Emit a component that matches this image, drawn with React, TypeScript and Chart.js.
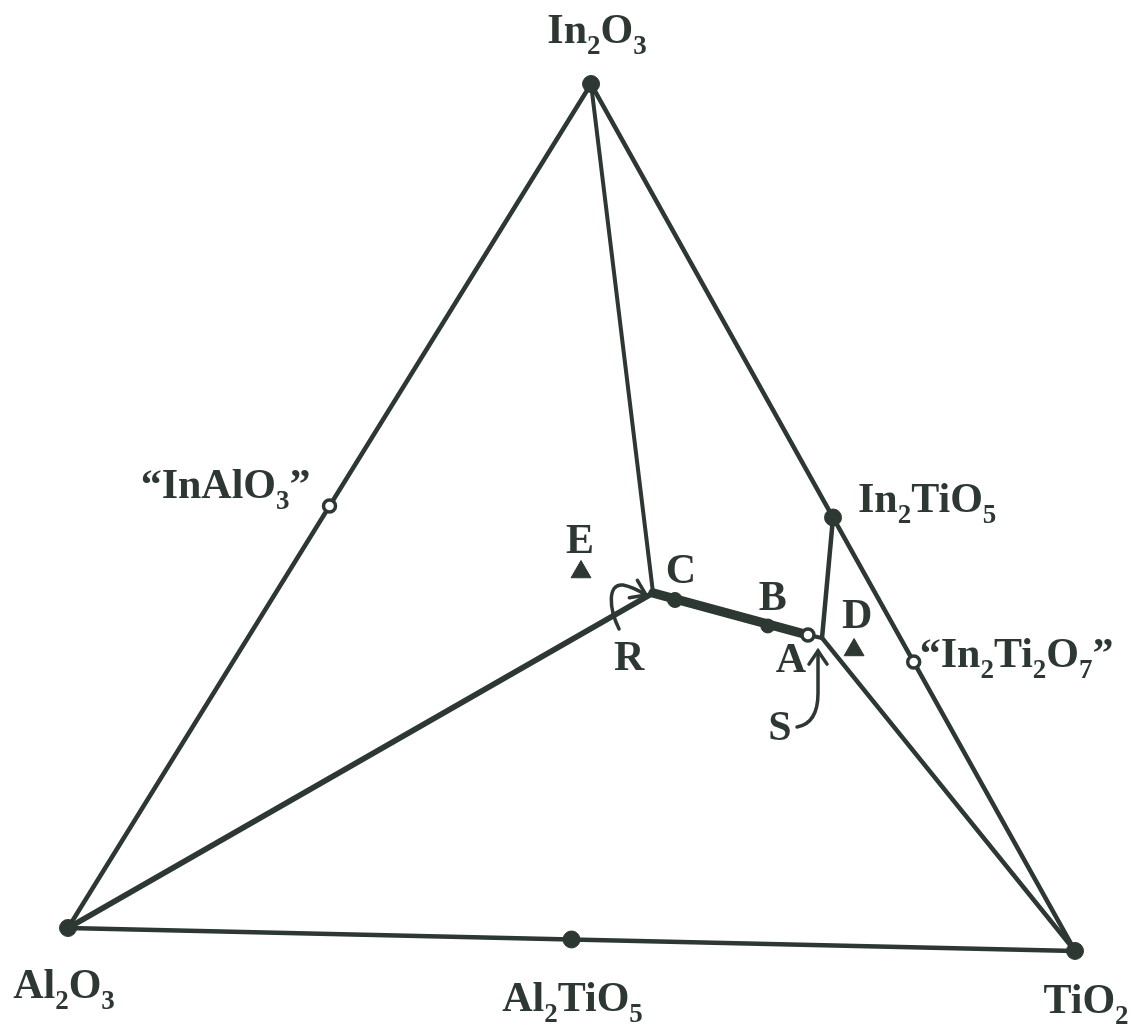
import React, { useEffect, useRef } from 'react';
import { Chart, registerables } from 'chart.js';

Chart.register(...registerables);

// Phases on the In2O3–Al2O3–TiO2 diagram, as mole fractions of In2O3 and TiO2 (Al2O3 is the rest)
const phaseNames = ['In2O3', 'Al2O3', 'TiO2', 'Al2TiO5', '“InAlO3”', 'In2TiO5', '“In2Ti2O7”'];
const phaseIn = [1, 0, 0, 0, 0.5, 0.5, 1 / 3];
const phaseTi = [0, 0, 1, 0.5, 0, 0.5, 2 / 3];
const phaseOpen = [false, false, false, false, true, false, true];

// Lettered compositions inside the triangle
const pointNames = ['A', 'B', 'C', 'D', 'E', 'R', 'S'];
const pointIn = [0.362, 0.3715, 0.3994, 0.3458, 0.4296, 0.407, 0.359];
const pointTi = [0.5468, 0.502, 0.3953, 0.601, 0.2863, 0.3696, 0.5623];

// Tie lines between named compositions, with their stroke weight
const tieFrom = ['Al2O3', 'In2O3', 'TiO2', 'In2O3', 'Al2O3', 'R', 'In2TiO5', 'A', 'S'];
const tieTo = ['In2O3', 'TiO2', 'Al2O3', 'R', 'R', 'A', 'S', 'S', 'TiO2'];
const tieWidth = [4.5, 4.5, 4.5, 4, 5.5, 9.5, 4.5, 4, 4.5];

const INK = '#2d3833';
const MAIN_FONT = 'bold 42px "Liberation Serif", "Times New Roman", serif';
const SUB_FONT = 'bold 27px "Liberation Serif", "Times New Roman", serif';

// Oblique ternary frame: Al2O3 at the origin, TiO2 to the right, In2O3 on top
const IN_X = 0.5194, IN_Y = 0.8381, TI_DROP = 0.0228;
const toXY = (a: number, t: number) => ({ x: t + a * IN_X, y: a * IN_Y - t * TI_DROP });

const compOf = (name: string) => {
  let i = phaseNames.findIndex((n) => n.replace(/[“”]/g, '') === name);
  if (i >= 0) return toXY(phaseIn[i], phaseTi[i]);
  i = pointNames.indexOf(name);
  return toXY(pointIn[i], pointTi[i]);
};

// Label placement: [anchor, text, dx, dy, align]
const labelPlace: [string, string, number, number, CanvasTextAlign][] = [
  ['In2O3', 'In2O3', 6, -41, 'center'],
  ['Al2O3', 'Al2O3', -4, 70, 'center'],
  ['TiO2', 'TiO2', 11, 62, 'center'],
  ['Al2TiO5', 'Al2TiO5', 1, 72, 'center'],
  ['InAlO3', '“InAlO3”', -19, -8, 'right'],
  ['In2TiO5', 'In2TiO5', 25, -5, 'left'],
  ['In2Ti2O7', '“In2Ti2O7”', 6, 5, 'left'],
  ['A', 'A', -17, 37, 'center'],
  ['B', 'B', 5, -16, 'center'],
  ['C', 'C', 6, -17, 'center'],
  ['D', 'D', 3, -22, 'center'],
  ['E', 'E', -1, -19, 'center'],
  ['R', 'R', -24, 77, 'center'],
  ['S', 'S', -42, 102, 'center'],
];

function drawFormula(ctx: CanvasRenderingContext2D, text: string, x: number, y: number, align: CanvasTextAlign) {
  const runs: { s: string; sub: boolean }[] = [];
  for (const ch of text) {
    const sub = /[0-9]/.test(ch);
    const last = runs[runs.length - 1];
    if (last && last.sub === sub) last.s += ch;
    else runs.push({ s: ch, sub });
  }
  let total = 0;
  for (const r of runs) {
    ctx.font = r.sub ? SUB_FONT : MAIN_FONT;
    total += ctx.measureText(r.s).width;
  }
  let cx = align === 'center' ? x - total / 2 : align === 'right' ? x - total : x;
  ctx.textAlign = 'left';
  ctx.textBaseline = 'alphabetic';
  for (const r of runs) {
    ctx.font = r.sub ? SUB_FONT : MAIN_FONT;
    ctx.fillText(r.s, cx, r.sub ? y + 11 : y);
    cx += ctx.measureText(r.s).width;
  }
}

function arrowHead(ctx: CanvasRenderingContext2D, tx: number, ty: number, fx: number, fy: number, len: number, spread: number) {
  const ang = Math.atan2(ty - fy, tx - fx);
  ctx.beginPath();
  ctx.moveTo(tx - len * Math.cos(ang - spread), ty - len * Math.sin(ang - spread));
  ctx.lineTo(tx, ty);
  ctx.lineTo(tx - len * Math.cos(ang + spread), ty - len * Math.sin(ang + spread));
  ctx.stroke();
}

const labelsPlugin = {
  id: 'ternaryLabels',
  afterDatasetsDraw(chart: Chart) {
    const { ctx, scales } = chart;
    const px = (name: string) => {
      const p = compOf(name);
      return { x: scales.x.getPixelForValue(p.x), y: scales.y.getPixelForValue(p.y) };
    };
    ctx.save();
    ctx.fillStyle = INK;
    for (const [anchor, text, dx, dy, align] of labelPlace) {
      const p = px(anchor);
      drawFormula(ctx, text, p.x + dx, p.y + dy, align);
    }

    // Curved pointer arrows for R and S
    ctx.strokeStyle = INK;
    ctx.lineWidth = 3.5;
    ctx.lineCap = 'round';
    const r = px('R');
    ctx.beginPath();
    ctx.moveTo(r.x - 34, r.y + 36);
    ctx.bezierCurveTo(r.x - 44, r.y + 16, r.x - 46, r.y - 10, r.x - 30, r.y - 8);
    ctx.quadraticCurveTo(r.x - 20, r.y - 6, r.x - 7, r.y + 2);
    ctx.stroke();
    arrowHead(ctx, r.x - 7, r.y + 2, r.x - 22, r.y - 5, 17, 0.6);

    const s = px('S');
    ctx.beginPath();
    ctx.moveTo(s.x - 25, s.y + 89);
    ctx.bezierCurveTo(s.x - 8, s.y + 86, s.x - 4, s.y + 70, s.x - 4, s.y + 55);
    ctx.lineTo(s.x - 4, s.y + 13);
    ctx.stroke();
    arrowHead(ctx, s.x - 4, s.y + 13, s.x - 4, s.y + 40, 16, 0.6);
    ctx.restore();
  },
};

export default function App() {
  const canvasRef = useRef<HTMLCanvasElement | null>(null);

  useEffect(() => {
    if (!canvasRef.current) return;

    const lineSets = tieFrom.map((from, i) => ({
      type: 'line' as const,
      data: [compOf(from), compOf(tieTo[i])],
      borderColor: INK,
      borderWidth: tieWidth[i],
      pointRadius: 0,
      borderCapStyle: 'round' as const,
      fill: false,
      order: 10,
    }));

    const phaseSet = {
      type: 'scatter' as const,
      data: phaseIn.map((a, i) => toXY(a, phaseTi[i])),
      pointRadius: phaseIn.map((_, i) => (phaseOpen[i] ? 6 : 8.5)),
      pointBackgroundColor: phaseOpen.map((o) => (o ? '#ffffff' : INK)),
      pointBorderColor: INK,
      pointBorderWidth: phaseOpen.map((o) => (o ? 3.5 : 1)),
      order: 1,
    };

    const dotNames = ['A', 'B', 'C'];
    const dotSet = {
      type: 'scatter' as const,
      data: dotNames.map((n) => compOf(n)),
      pointRadius: [6, 7, 7.5],
      pointBackgroundColor: ['#ffffff', INK, INK],
      pointBorderColor: INK,
      pointBorderWidth: [3.5, 1, 1],
      order: 1,
    };

    const triNames = ['D', 'E'];
    const triSet = {
      type: 'scatter' as const,
      data: triNames.map((n) => compOf(n)),
      pointStyle: 'triangle' as const,
      pointRadius: 11.5,
      pointBackgroundColor: INK,
      pointBorderColor: INK,
      pointBorderWidth: 1,
      order: 1,
    };

    const chart = new Chart(canvasRef.current, {
      type: 'scatter',
      data: { datasets: [phaseSet, dotSet, triSet, ...lineSets] as any },
      options: {
        animation: false,
        responsive: false,
        devicePixelRatio: 1,
        layout: { padding: 0, autoPadding: false },
        events: [],
        plugins: { legend: { display: false }, tooltip: { enabled: false } },
        scales: {
          x: { type: 'linear', display: false, min: -0.06753, max: 1.0556 },
          y: { type: 'linear', display: false, min: -0.10526, max: 0.92155 },
        },
      },
      plugins: [labelsPlugin],
    });
    return () => chart.destroy();
  }, []);

  return (
    <div style={{ position: 'fixed', left: 0, top: 0, width: 1131, height: 1034, background: '#ffffff' }}>
      <canvas ref={canvasRef} width={1131} height={1034} />
    </div>
  );
}
